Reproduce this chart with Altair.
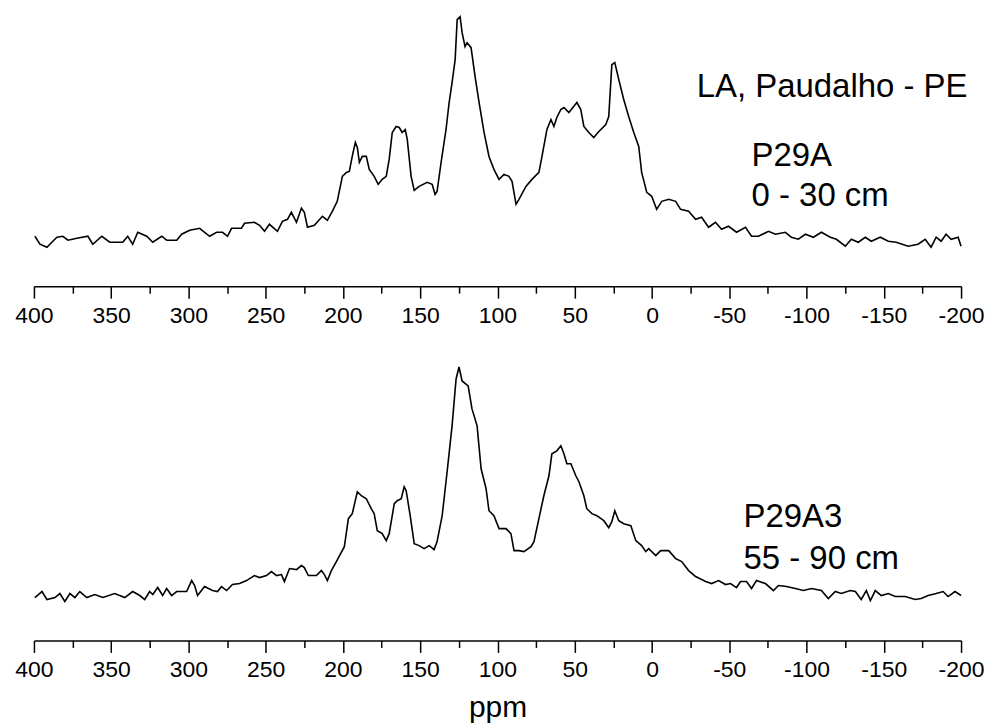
import altair as alt
import pandas as pd

# ---- data (ppm, intensity in arbitrary units) ----
top_ppm = [399.4, 396.1, 391.6, 388.4, 385.1, 381.3, 378.0, 372.2, 365.1, 361.9, 356.1, 350.9, 342.5, 339.3,
           336.1, 332.8, 327.0, 323.1, 317.3, 314.1, 307.6, 304.4, 299.2, 292.8, 286.3, 281.8, 277.9, 274.7,
           272.1, 265.7, 263.7, 257.3, 254.0, 250.8, 247.6, 242.4, 239.2, 235.9, 233.4, 230.1, 226.9, 225.0,
           223.0, 218.5, 213.3, 210.1, 206.9, 203.7, 200.4, 197.8, 195.9, 194.0, 192.0, 190.7, 189.4, 187.5,
           184.9, 183.0, 179.8, 177.2, 174.6, 172.0, 170.1, 168.1, 165.6, 163.6, 161.7, 159.7, 158.4, 155.9,
           153.9, 150.7, 145.5, 142.3, 140.4, 139.1, 136.5, 133.3, 131.3, 129.4, 127.4, 126.1, 124.2, 122.9,
           121.0, 119.7, 117.1, 114.5, 111.9, 108.7, 105.5, 102.3, 99.0,
           95.8, 92.6, 90.6, 88.0, 86.1, 81.6, 77.7, 73.2, 71.2, 68.0, 65.4, 63.5, 61.6, 59.0, 57.0, 53.8,
           48.6, 46.1, 44.1, 40.9, 37.7, 34.4, 29.9, 28.0, 26.0, 24.1, 21.5, 18.3, 15.1, 11.8, 8.6, 6.7, 3.4,
           0.2, -3.0, -6.3, -10.8, -15.3, -18.5, -23.7, -28.2, -32.1, -36.6, -41.1, -45.0, -49.5, -54.7,
           -60.5, -64.4, -68.9, -75.4, -79.9, -86.3, -90.2, -94.7, -99.3, -104.4, -109.6, -115.4, -119.3,
           -125.1, -129.0, -133.5, -138.0, -141.9, -147.7, -152.9, -158.0, -165.8, -172.2, -176.8, -180.6,
           -183.9, -187.1, -190.3, -193.6, -198.1, -200.0]
top_int = [50, 42, 39, 44, 49, 50, 46, 48, 50, 42, 50, 44, 44, 50,
           42, 54, 50, 44, 50, 46, 46, 52, 56, 58, 50, 54, 54, 50,
           58, 58, 63, 64, 61, 55, 62, 55, 65, 67, 74, 64, 78, 74,
           59, 61, 70, 66, 75, 85, 110, 114, 115, 130, 144, 139, 124, 130,
           130, 117, 110, 102, 107, 110, 127, 154, 160, 159, 154, 157, 147, 110,
           96, 100, 104, 102, 92, 95, 124, 157, 184, 204, 227, 267, 270, 254,
           240, 244, 239, 210, 184, 154, 130, 117, 107,
           112, 110, 105, 82, 87, 100, 107, 114, 130, 157, 167, 160, 169, 177, 179, 174,
           184, 177, 160, 154, 149, 155, 162, 170, 222, 224, 207, 187, 170, 154, 140, 114, 94,
           90, 77, 85, 87, 85, 77, 75, 67, 69, 59, 64, 57, 60, 54,
           59, 50, 50, 55, 52, 54, 49, 47, 52, 49, 54, 49, 47,
           40, 47, 44, 49, 45, 49, 45, 44, 40, 42, 47, 39,
           49, 45, 52, 47, 49, 40]

bot_ppm = [399.4, 394.8, 391.6, 386.4, 383.2, 380.0, 376.7, 373.5, 370.3, 365.8, 360.6, 355.4, 347.7, 341.2,
           336.1, 331.5, 328.3, 325.1, 323.1, 319.9, 316.7, 314.1, 310.9, 307.6, 301.2, 297.9, 296.0, 294.1,
           289.6, 284.4, 281.2, 278.6, 275.3, 271.5, 266.9, 262.4, 257.3, 254.0, 249.5, 246.3, 243.0, 239.8,
           237.9, 234.6, 230.1, 226.9, 225.0, 222.4, 217.2, 214.0, 212.0, 210.1, 207.5, 204.3, 199.1, 196.5,
           194.0, 190.7, 188.1, 184.9, 181.7, 179.8, 177.8, 174.6, 172.0, 170.1, 166.8, 164.9, 162.3, 160.4,
           159.1, 156.5, 153.9, 150.7, 147.5, 144.2, 141.0, 139.1, 135.8, 132.6, 129.4, 126.8, 124.9, 122.9,
           119.0, 116.5, 113.2, 110.6, 107.4, 105.5, 102.3, 99.0,
           94.5, 91.3, 89.3, 86.1, 82.9, 78.3, 76.4, 73.2, 70.0, 66.7, 64.8, 61.6, 59.0, 57.0, 55.1, 52.5,
           49.3, 47.3, 44.1, 42.2, 38.9, 35.7, 31.2, 28.0, 26.0, 24.1, 21.5, 18.3, 13.7, 10.5, 6.7, 4.1,
           2.1, -2.4, -5.6, -10.8, -15.3, -19.2, -23.7, -28.2, -34.7, -38.6, -43.1, -47.6, -50.8, -54.7,
           -57.3, -61.2, -64.4, -67.6, -73.4, -78.6, -81.8, -87.0, -92.8, -98.0, -103.2, -109.6, -114.1,
           -118.6, -122.5, -128.3, -131.6, -135.4, -138.7, -141.3, -144.5, -148.4, -152.9, -157.4, -163.9,
           -170.3, -174.2, -178.7, -183.9, -188.4, -191.6, -196.1, -200.0]
bot_int = [43, 49, 41, 43, 47, 39, 47, 43, 49, 43, 46, 43, 47, 43,
           49, 45, 41, 49, 46, 53, 45, 52, 45, 49, 49, 60, 55, 45,
           54, 50, 49, 54, 50, 56, 57, 60, 65, 63, 65, 69, 65, 66,
           59, 72, 71, 75, 73, 65, 65, 70, 66, 60, 70, 79, 94, 122,
           127, 149, 145, 142, 132, 127, 110, 107, 100, 107, 137, 140, 142, 154,
           150, 125, 97, 95, 92, 95, 91, 99, 125, 169, 215, 262, 274, 260,
           255, 232, 215, 172, 152, 130, 125, 112,
           112, 107, 90, 90, 89, 94, 99, 122, 145, 165, 187, 190, 195, 187, 177, 177,
           165, 159, 145, 132, 127, 125, 120, 113, 119, 130, 120, 117, 115, 100, 95, 89,
           92, 85, 90, 90, 82, 79, 70, 64, 59, 57, 60, 56, 57, 53,
           59, 59, 52, 60, 57, 50, 55, 54, 52, 50, 52, 50, 42,
           49, 47, 50, 49, 41, 50, 40, 50, 45, 47, 44, 44,
           41, 42, 45, 47, 49, 44, 49, 45]

top_labels = ["LA, Paudalho - PE", "P29A", "0 - 30 cm"]
top_label_ppm = [-28.9, -64.4, -64.4]
top_label_int = [190, 120, 80]

bot_labels = ["P29A3", "55 - 90 cm"]
bot_label_ppm = [-59.2, -59.2]
bot_label_int = [114, 72]

tick_values = [400, 375, 350, 325, 300, 275, 250, 225, 200, 175, 150, 125, 100, 75, 50, 25, 0,
               -25, -50, -75, -100, -125, -150, -175, -200]

FONT = "Liberation Sans"
W = 929
H_TOP = 280
H_BOT = 297


def make_axis(title):
    kw = dict(
        values=tick_values,
        labelExpr="datum.value % 50 === 0 ? '' + datum.value : ''",
        tickSize={"condition": {"test": "datum.value % 50 !== 0", "value": 7}, "value": 12},
        grid=False,
        labelFont=FONT,
        labelFontSize=23,
        labelPadding=6,
        labelColor="black",
        labelOverlap=False,
        labelFlush=False,
        labelBound=False,
        domainColor="black",
        domainWidth=1.5,
        tickColor="black",
        tickWidth=1.5,
    )
    if title:
        kw.update(title=title, titleFont=FONT, titleFontSize=30, titleFontWeight="normal",
                  titleColor="black", titlePadding=11)
    else:
        kw.update(title=None)
    return alt.Axis(**kw)


def panel(ppm, inten, lab, lab_ppm, lab_int, height, title):
    df = pd.DataFrame({"ppm": ppm, "intensity": inten})
    tdf = pd.DataFrame({"ppm": lab_ppm, "intensity": lab_int, "label": lab})
    xscale = alt.Scale(domain=[-200, 400], reverse=True, nice=False, zero=False)
    yscale = alt.Scale(domain=[0, height], nice=False, zero=False)
    ax = make_axis(title)
    line = alt.Chart(df).mark_line(color="black", strokeWidth=1.6).encode(
        x=alt.X("ppm:Q", scale=xscale, axis=ax),
        y=alt.Y("intensity:Q", scale=yscale, axis=None),
    )
    txt = alt.Chart(tdf).mark_text(
        align="left", baseline="alphabetic", font=FONT, fontSize=33, color="black"
    ).encode(
        x=alt.X("ppm:Q", scale=xscale, axis=ax),
        y=alt.Y("intensity:Q", scale=yscale, axis=None),
        text="label:N",
    )
    return alt.layer(line, txt).properties(width=W, height=height)


top = panel(top_ppm, top_int, top_labels, top_label_ppm, top_label_int, H_TOP, None)
bot = panel(bot_ppm, bot_int, bot_labels, bot_label_ppm, bot_label_int, H_BOT, "ppm")

chart = alt.vconcat(top, bot, spacing=17).properties(
    padding={"left": 14, "top": 6, "right": 4, "bottom": 0},
    background="white",
).configure_view(stroke=None)

chart.save("out.html", embed_options={"renderer": "svg", "actions": False})
